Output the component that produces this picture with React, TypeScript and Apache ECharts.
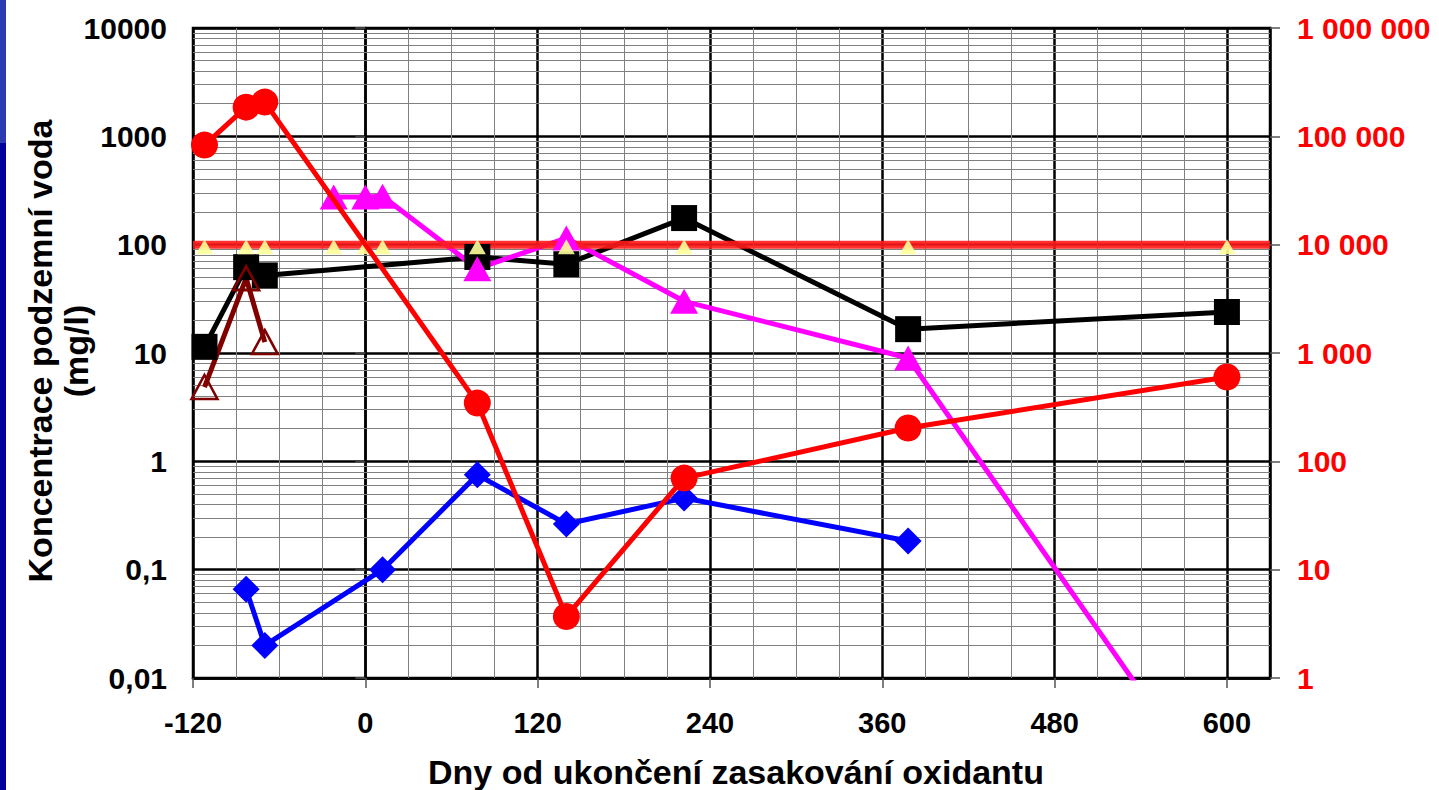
import React, { useEffect, useRef } from "react";
import * as echarts from "echarts";

// ---- axes / ticks ----
const xTicks = [-120, 0, 120, 240, 360, 480, 600];
const xMinorGrid = [-90, -60, -30, 30, 60, 90, 150, 180, 210, 270, 300, 330, 390, 420, 450, 510, 540, 570];
const decades = [0.01, 0.1, 1, 10, 100, 1000];
const decadeSteps = [2, 3, 4, 5, 6, 7, 8, 9];

// ---- series (days, values) ----
const blackDays = [-112, -83, -70, 78, 140, 222, 378, 600];
const blackValues = [11.4, 62, 52, 77, 66, 176, 16.6, 23.9];

const redDays = [-112, -83, -70, 78, 140, 222, 378, 600];
const redValues = [83000, 186000, 207000, 345, 3.7, 70, 203, 600]; // right axis

const magentaDays = [-22, 0, 12, 78, 140, 222, 378, 600];
const magentaValues = [275, 275, 280, 60, 115, 30, 9, 0.00055];

const blueDays = [-83, -70, 12, 78, 140, 222, 378];
const blueValues = [0.066, 0.02, 0.1, 0.75, 0.264, 0.458, 0.184];

const darkRedDays = [-112, -83, -70];
const darkRedValues = [4.85, 49, 12.6];

const limitDays = [-112, -83, -70, -22, 0, 12, 78, 140, 222, 378, 600];
const limitValue = 100;
const limitSpan = [-120, 630];

const FONT = "'Liberation Sans', Arial, sans-serif";

const pairs = (xs: number[], ys: number[]) => xs.map((x, i) => [x, ys[i]]);

export default function App() {
  const ref = useRef<HTMLDivElement>(null);

  useEffect(() => {
    if (!ref.current) return;
    const chart = echarts.init(ref.current, null, { renderer: "svg" });

    const minorValues: number[] = [];
    decades.forEach((d) => decadeSteps.forEach((s) => minorValues.push(Number((d * s).toPrecision(6)))));

    const fmtLeft = (v: number) => Number(v.toPrecision(6)).toString().replace(".", ",");
    const fmtRight = (v: number) =>
      Math.round(v).toString().replace(/\B(?=(\d{3})+(?!\d))/g, " ");

    const option: any = {
      animation: false,
      backgroundColor: "#ffffff",
      grid: {
        left: 193,
        top: 28,
        width: 1077,
        height: 650,
        show: true,
        borderColor: "#000",
        borderWidth: 2.5,
        backgroundColor: "transparent",
        containLabel: false,
      },
      xAxis: {
        type: "value",
        min: -120,
        max: 630,
        interval: 120,
        axisLine: { show: true, onZero: false, lineStyle: { color: "#000", width: 2.5 } },
        axisTick: { show: true, length: 10, customValues: xTicks, lineStyle: { color: "#555", width: 1.5 } },
        axisLabel: {
          customValues: xTicks,
          fontSize: 29,
          fontWeight: "bold",
          color: "#000",
          fontFamily: FONT,
          margin: 30,
        },
        splitLine: { show: true, lineStyle: { color: "#000", width: 2.5 } },
      },
      yAxis: [
        {
          type: "log",
          logBase: 10,
          min: 0.01,
          max: 10000,
          interval: 1,
          axisLine: { show: true, lineStyle: { color: "#000", width: 2.5 } },
          axisTick: { show: true, length: 10, lineStyle: { color: "#555", width: 1.5 } },
          axisLabel: {
            formatter: fmtLeft,
            fontSize: 30,
            fontWeight: "bold",
            color: "#000",
            fontFamily: FONT,
            margin: 26,
          },
          splitLine: { show: true, lineStyle: { color: "#000", width: 2.5 } },
        },
        {
          type: "log",
          logBase: 10,
          min: 1,
          max: 1000000,
          interval: 1,
          position: "right",
          axisLine: { show: true, lineStyle: { color: "#000", width: 2.5 } },
          axisTick: { show: true, length: 10, lineStyle: { color: "#555", width: 1.5 } },
          axisLabel: {
            formatter: fmtRight,
            fontSize: 30,
            fontWeight: "bold",
            color: "#ff0000",
            fontFamily: FONT,
            margin: 27,
          },
          splitLine: { show: false },
        },
      ],
      series: [
        {
          name: "grid",
          type: "line",
          z: 1,
          silent: true,
          showSymbol: false,
          data: [],
          markLine: {
            silent: true,
            z: 1,
            symbol: "none",
            label: { show: false },
            lineStyle: { color: "#808080", width: 1, type: "solid" },
            emphasis: { disabled: true },
            data: [
              ...minorValues.map((v) => ({ yAxis: v })),
              ...xMinorGrid.map((d) => ({ xAxis: d })),
            ],
          },
        },
        {
          name: "black",
          type: "line",
          z: 3,
          data: pairs(blackDays, blackValues),
          symbol: "rect",
          symbolSize: 26,
          itemStyle: { color: "#000" },
          lineStyle: { color: "#000", width: 5 },
        },
        {
          name: "darkred",
          type: "line",
          z: 3,
          data: pairs(darkRedDays, darkRedValues),
          symbol: "triangle",
          symbolSize: [26, 24],
          itemStyle: { color: "rgba(0,0,0,0)", borderColor: "#800000", borderWidth: 2.5 },
          lineStyle: { color: "#800000", width: 5 },
        },
        {
          name: "blue",
          type: "line",
          z: 3,
          data: pairs(blueDays, blueValues),
          symbol: "diamond",
          symbolSize: 27,
          itemStyle: { color: "#0000ff" },
          lineStyle: { color: "#0000ff", width: 5 },
        },
        {
          name: "magenta",
          type: "line",
          z: 3,
          data: pairs(magentaDays, magentaValues),
          symbol: "triangle",
          symbolSize: [28, 25],
          itemStyle: { color: "#ff00ff" },
          lineStyle: { color: "#ff00ff", width: 5 },
        },
        {
          name: "limit",
          type: "line",
          z: 3,
          data: limitSpan.map((d) => [d, limitValue]),
          showSymbol: false,
          symbol: "none",
          lineStyle: { color: "#ff1a1a", width: 8, opacity: 0.9 },
        },
        {
          name: "limitPts",
          type: "scatter",
          z: 3,
          data: limitDays.map((d) => [d, limitValue]),
          symbol: "triangle",
          symbolSize: [17, 15],
          symbolOffset: [0, 2],
          itemStyle: { color: "#ffff99", opacity: 0.9 },
        },
        {
          name: "red",
          type: "line",
          z: 4,
          yAxisIndex: 1,
          data: pairs(redDays, redValues),
          symbol: "circle",
          symbolSize: 27,
          itemStyle: { color: "#ff0000" },
          lineStyle: { color: "#ff0000", width: 5 },
        },
      ],
      graphic: [
        { type: "rect", left: 0, top: 0, shape: { width: 6, height: 790 }, style: { fill: "#00009c" } },
        { type: "rect", left: 0, top: 0, shape: { width: 6, height: 143 }, style: { fill: "#2a3ab0" } },
        {
          type: "text",
          x: 40,
          y: 351,
          rotation: Math.PI / 2,
          style: {
            text: "Koncentrace podzemní voda",
            font: `bold 34px ${FONT}`,
            fill: "#000",
            align: "center",
            verticalAlign: "middle",
          },
        },
        {
          type: "text",
          x: 76,
          y: 351,
          rotation: Math.PI / 2,
          style: {
            text: "(mg/l)",
            font: `bold 34px ${FONT}`,
            fill: "#000",
            align: "center",
            verticalAlign: "middle",
          },
        },
        {
          type: "text",
          x: 736,
          y: 772,
          style: {
            text: "Dny od ukončení zasakování oxidantu",
            font: `bold 34px ${FONT}`,
            fill: "#000",
            align: "center",
            verticalAlign: "middle",
          },
        },
      ],
    };

    chart.setOption(option);
    return () => chart.dispose();
  }, []);

  return (
    <div
      ref={ref}
      style={{ position: "absolute", left: 0, top: 0, width: 1439, height: 790, background: "#fff" }}
    />
  );
}
